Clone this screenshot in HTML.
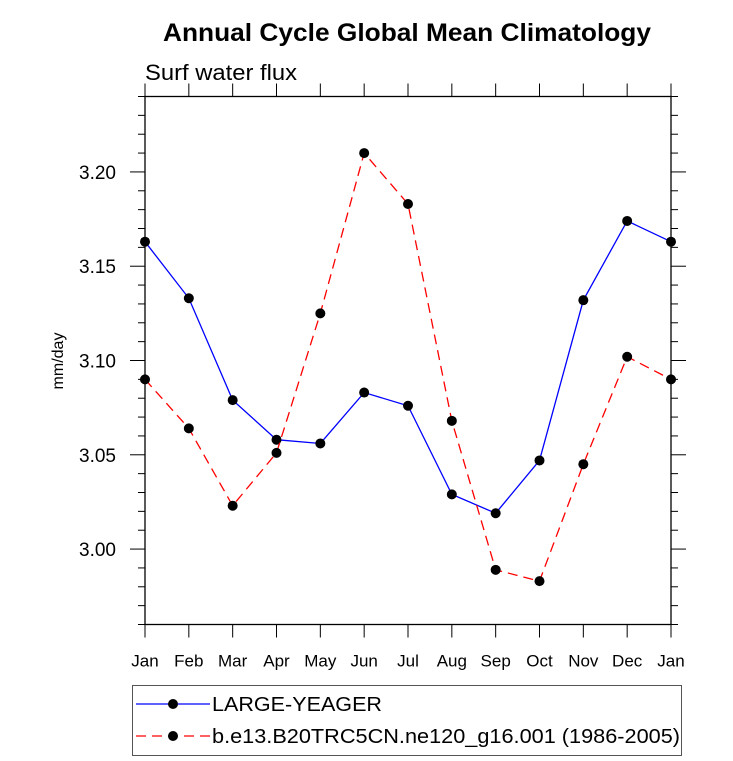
<!DOCTYPE html>
<html><head><meta charset="utf-8"><style>
body{margin:0;background:#fff;}
svg{display:block;font-family:"Liberation Sans",Helvetica,sans-serif;}
</style></head><body>
<svg id="chart" width="733" height="761" viewBox="0 0 733 761">
<text x="163" y="41" textLength="488" lengthAdjust="spacingAndGlyphs" font-size="25" font-weight="bold">Annual Cycle Global Mean Climatology</text>
<text x="145" y="80" textLength="152" lengthAdjust="spacingAndGlyphs" font-size="22">Surf water flux</text>
<text transform="translate(63,361) rotate(-90)" text-anchor="middle" font-size="16">mm/day</text>
<g id="axes"></g>
<g id="series"></g>
<g>
<rect x="132.5" y="685.5" width="549" height="70" fill="none" stroke="#555" stroke-width="1"/>
<g>
<line x1="136" y1="704" x2="210" y2="704" stroke="#0000ff" stroke-width="1.3"/>
<circle cx="173" cy="704" r="5" fill="#000"/>
<text x="212" y="711" textLength="170" lengthAdjust="spacingAndGlyphs" font-size="20">LARGE-YEAGER</text></g>
<g>
<line x1="136" y1="736" x2="210" y2="736" stroke="#ff0000" stroke-width="1.3" stroke-dasharray="10,6"/>
<circle cx="173" cy="736" r="5" fill="#000"/>
<text x="212" y="743" textLength="468" lengthAdjust="spacingAndGlyphs" font-size="20">b.e13.B20TRC5CN.ne120_g16.001 (1986-2005)</text></g>
</g>
</svg>
<script>
const months=["Jan","Feb","Mar","Apr","May","Jun","Jul","Aug","Sep","Oct","Nov","Dec","Jan"];
const largeYeager=[3.163,3.133,3.079,3.058,3.056,3.083,3.076,3.029,3.019,3.047,3.132,3.174,3.163];
const caseRun=[3.090,3.064,3.023,3.051,3.125,3.210,3.183,3.068,2.989,2.983,3.045,3.102,3.090];
const yTicks=[3.00,3.05,3.10,3.15,3.20];
const yTickLabels=["3.00","3.05","3.10","3.15","3.20"];
const yMin=2.96,yMax=3.24;
const L=145,R=671,T=96.5,B=624.5;
const xs=i=>L+(R-L)*i/(months.length-1);
const ys=v=>B-(v-yMin)/(yMax-yMin)*(B-T);
const NS="http://www.w3.org/2000/svg";
function mk(tag,attrs,parent){const e=document.createElementNS(NS,tag);for(const k in attrs)e.setAttribute(k,attrs[k]);parent.appendChild(e);return e;}
const ax=document.getElementById('axes');
const frame=mk('rect',{x:L,y:T,width:R-L,height:B-T,fill:'none',stroke:'#000','stroke-width':1.3},ax);


for(let k=0;k<=28;k++){const v=yMin+k*0.01;const y=ys(v);
 const major=yTicks.some(t=>Math.abs(t-v)<1e-6);const len=major?15:7;
 mk('line',{x1:L-len,y1:y,x2:L,y2:y,stroke:'#000','stroke-width':1},ax);
 mk('line',{x1:R,y1:y,x2:R+len,y2:y,stroke:'#000','stroke-width':1},ax);}
yTicks.forEach((v,i)=>{const t=mk('text',{x:L-29,y:ys(v)+7,'text-anchor':'end','font-size':19},ax);t.textContent=yTickLabels[i];
 
 });
months.forEach((m,i)=>{const x=xs(i);
 mk('line',{x1:x,y1:B,x2:x,y2:B+13,stroke:'#000','stroke-width':1},ax);
 mk('line',{x1:x,y1:T-13,x2:x,y2:T,stroke:'#000','stroke-width':1},ax);
 const t=mk('text',{x:x,y:B+42,'text-anchor':'middle','font-size':17},ax);t.textContent=m;
 
 });
const sg=document.getElementById('series');
function draw(vals,color,dash,name){
 const pts=vals.map((v,i)=>xs(i)+','+ys(v)).join(' ');
 const pl=mk('polyline',{points:pts,fill:'none',stroke:color,'stroke-width':1.3},sg);
 if(dash)pl.setAttribute('stroke-dasharray',dash);
 
 
 vals.forEach((v,i)=>{const c=mk('circle',{cx:xs(i),cy:ys(v),r:5,fill:'#000'},sg);
  
  });
}
draw(largeYeager,'#0000ff',null,'large-yeager');
draw(caseRun,'#ff0000','10,6','b-e13');
</script>
</body></html>
